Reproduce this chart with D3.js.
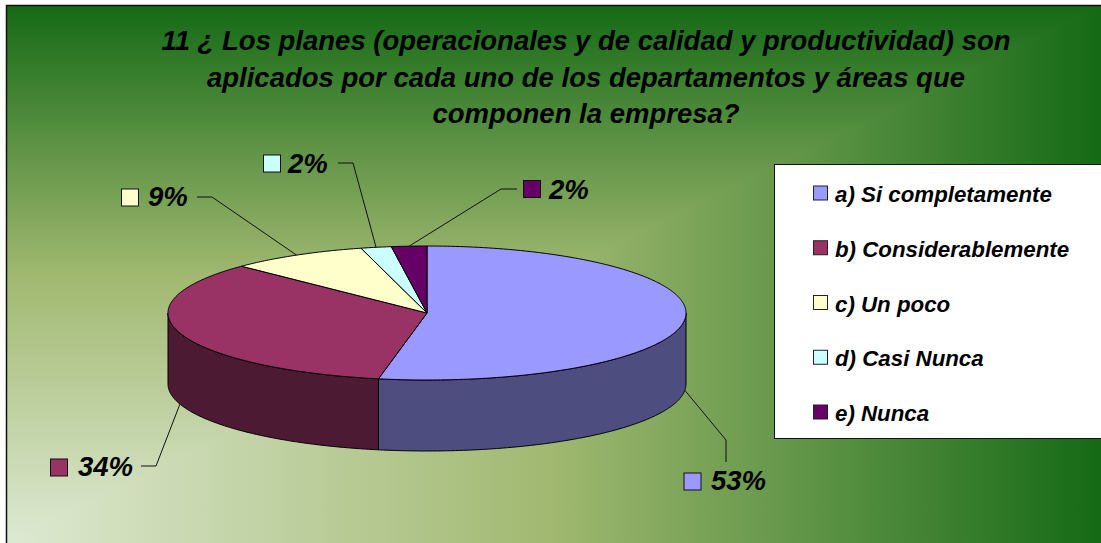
<!DOCTYPE html>
<html>
<head>
<meta charset="utf-8">
<script src="https://cdn.jsdelivr.net/npm/d3@7"></script>
<style>
html,body{margin:0;padding:0;background:#fff;overflow:hidden}
svg{display:block}
text{font-family:"Liberation Sans",Arial,sans-serif;font-weight:bold;font-style:italic;fill:#000}
</style>
</head>
<body>
<svg id="chart"></svg>
<script>
var titleLines = [
	"11 ¿ Los planes (operacionales y de calidad y productividad) son",
	"aplicados por cada uno de los departamentos y áreas que",
	"componen la empresa?"
];
var categories = ["a) Si completamente","b) Considerablemente","c) Un poco","d) Casi Nunca","e) Nunca"];
// shares, the labels show them rounded
var values = [53,34.3,8.6,1.9,2.2];
var topColors = ["#9999FF","#993366","#FFFFCC","#CCFFFF","#660066"];
var sideColors = ["#4D4D80","#4D1A33","#808066","#668080","#330033"];

// outside labels: swatch corner, text start/baseline, leader stub and elbow
var swatchX = [684,50.5,121.5,263.5,523.5];
var swatchY = [473,459,189,155,180.5];
var labelX = [711,78,148,288,549];
var labelY = [490,476,206,173,199];
var elbowX = [726,156,212,353,501];
var elbowY = [440,466,197,163,189];
var stubX = [726,141,197,338,517];
var stubY = [462,466,197,163,189];

var width = 1101, height = 543;
var depth = 71;

var svg = d3.select("#chart").attr("width",width).attr("height",height);
var defs = svg.append("defs");

function grad(id,x2,y2,stops){
	var g = defs.append("linearGradient").attr("id",id)
		.attr("x1",0).attr("y1",y2?1:0).attr("x2",x2).attr("y2",0);
	stops.forEach(function(s){
		g.append("stop").attr("offset",s[0]).attr("stop-color",s[1]);
	});
}
grad("bgV",0,1,[[0,"#DEE9D2"],[0.5,"#A0B870"],[1,"#156A16"]]);
grad("bgH",1,0,[[0,"#DEE9D2"],[0.5,"#A0B870"],[1,"#156A16"]]);

var fx0 = 7, fy0 = 6;
svg.append("rect").attr("x",fx0).attr("y",fy0).attr("width",width-fx0).attr("height",height-fy0)
	.attr("fill","url(#bgV)");
svg.append("polygon")
	.attr("points",[[fx0,height],[width,fy0],[width,height]].join(" "))
	.attr("fill","url(#bgH)");
svg.append("path")
	.attr("d","M"+(width)+","+(fy0-0.5)+"H"+(fx0-0.5)+"V"+height)
	.attr("fill","none").attr("stroke","#111").attr("stroke-width",1.5);

svg.selectAll("text.title").data(titleLines).enter().append("text")
	.attr("class","title")
	.attr("x",586)
	.attr("y",function(d,i){ return 50+i*36.5; })
	.attr("text-anchor","middle")
	.attr("font-size","27.5px")
	.text(function(d){ return d; });

var px = d3.scaleLinear().domain([-1,1]).range([168,686]);
var py = d3.scaleLinear().domain([-1,1]).range([246,380]);
var pie = d3.pie().sort(null).value(function(d){ return d; });
var arcs = pie(values);

function topPt(a){ return [px(Math.sin(a)),py(-Math.cos(a))]; }
function botPt(a){ var p = topPt(a); return [p[0],p[1]+depth]; }
function steps(a0,a1){ return d3.range(a0,a1,0.01).concat([a1]); }
var line = d3.line();

// side wall: only the front half of the ellipse shows
var side = svg.append("g");
arcs.forEach(function(d,i){
	var a0 = Math.max(d.startAngle,Math.PI/2), a1 = Math.min(d.endAngle,Math.PI*1.5);
	if(a1<=a0) return;
	var up = steps(a0,a1).map(topPt);
	var down = steps(a0,a1).reverse().map(botPt);
	side.append("path")
		.attr("d",line(up.concat(down))+"Z")
		.attr("fill",sideColors[i])
		.attr("stroke","#000").attr("stroke-width",1).attr("stroke-linejoin","round");
});

var topG = svg.append("g");
arcs.forEach(function(d,i){
	var pts = [[px(0),py(0)]].concat(steps(d.startAngle,d.endAngle).map(topPt));
	topG.append("path")
		.attr("d",line(pts)+"Z")
		.attr("fill",topColors[i])
		.attr("stroke","#000").attr("stroke-width",1).attr("stroke-linejoin","round");
});

// leaders + data labels
var lab = svg.append("g");
arcs.forEach(function(d,i){
	var mid = (d.startAngle+d.endAngle)/2;
	var front = Math.cos(mid)<0;
	var anchor = front?botPt(mid):topPt(mid);
	lab.append("path")
		.attr("d",line([[stubX[i],stubY[i]],[elbowX[i],elbowY[i]],anchor]))
		.attr("fill","none").attr("stroke","#111").attr("stroke-width",1);
	lab.append("rect")
		.attr("x",swatchX[i]).attr("y",swatchY[i])
		.attr("width",17).attr("height",17)
		.attr("fill",topColors[i]).attr("stroke","#111").attr("stroke-width",1);
	lab.append("text")
		.attr("x",labelX[i]).attr("y",labelY[i])
		.attr("font-size","27.5px")
		.text(Math.round(values[i])+"%");
});

// legend box
svg.append("rect").attr("x",774.5).attr("y",164.5).attr("width",width-774).attr("height",274)
	.attr("fill","#fff").attr("stroke","#111").attr("stroke-width",1);
var ly = d3.scalePoint().domain(categories).range([193,412]);
var leg = svg.selectAll("g.leg").data(categories).enter().append("g")
	.attr("class","leg")
	.attr("transform",function(d){ return "translate(0,"+ly(d)+")"; });
leg.append("rect").attr("x",813.5).attr("y",-7).attr("width",14).attr("height",14)
	.attr("fill",function(d,i){ return topColors[i]; })
	.attr("stroke","#222").attr("stroke-width",1);
leg.append("text").attr("x",835).attr("y",9)
	.attr("font-size","22.3px")
	.text(function(d){ return d; });
</script>
</body>
</html>
